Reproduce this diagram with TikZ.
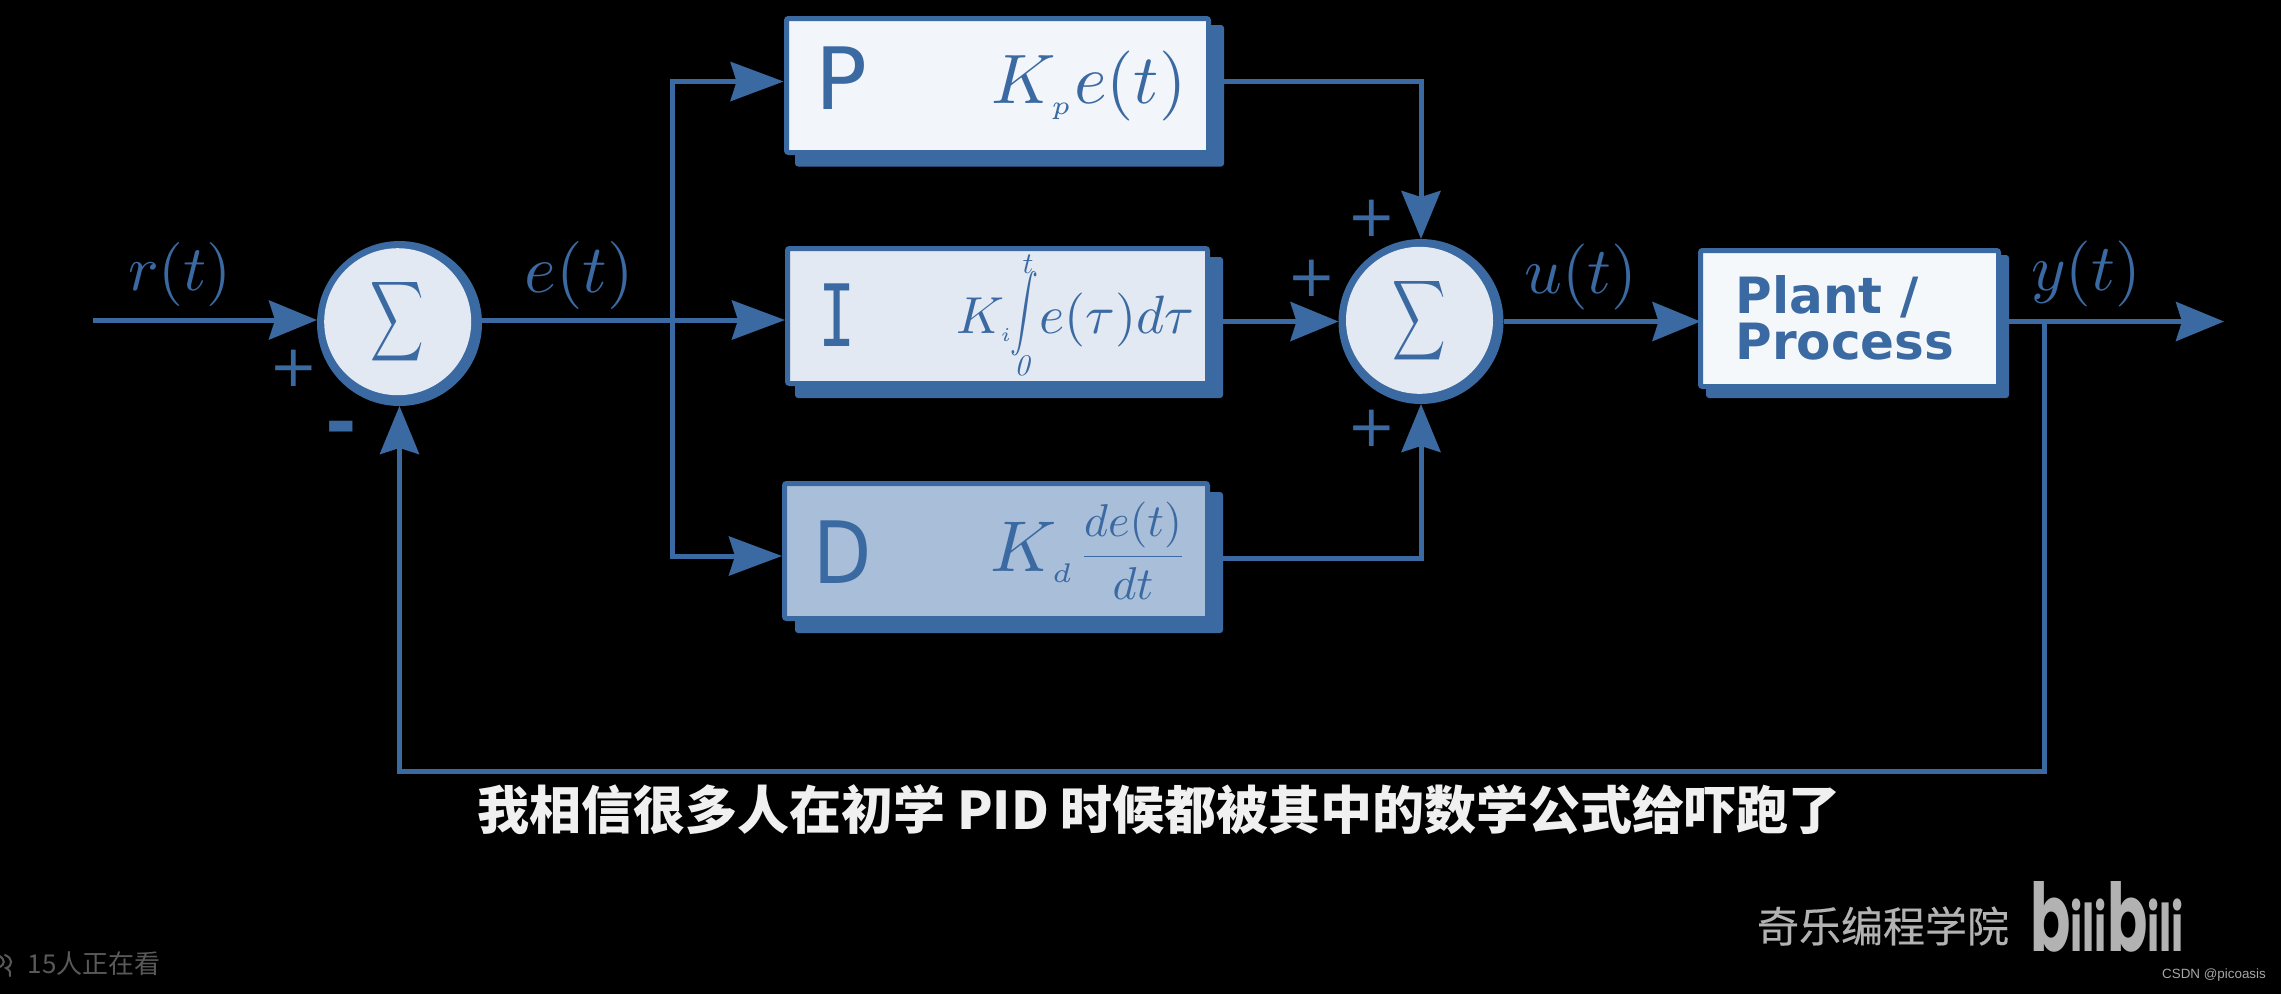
\documentclass[tikz,border=0pt]{standalone}
\usepackage[no-math]{fontspec}
\setmainfont{DejaVu Sans}
\newfontfamily\monoletter{DejaVu Sans Mono}
\newfontfamily\cjk{Noto Sans CJK SC}
\newfontfamily\cjkmed{Noto Sans CJK SC}[FakeBold=0.4]
\newfontfamily\csdnfont{Liberation Sans}
\newfontfamily\logofont{Poppins}
\usetikzlibrary{arrows.meta,calc}
\definecolor{pidblue}{HTML}{3B69A2}
\definecolor{fillP}{HTML}{F2F5FA}
\definecolor{fillI}{HTML}{E2E9F2}
\definecolor{fillD}{HTML}{A9BFD9}
\definecolor{fillPlant}{HTML}{F5F8FB}
\newcommand{\scm}[2]{\scalebox{#1}{$#2$}}
\newcommand{\fs}[1]{\fontsize{#1}{#1}\selectfont}
\newcommand{\tinysub}[1]{\scalebox{.75}{$\scriptscriptstyle #1$}}
\tikzset{
  x=0.5pt,y=-0.5pt,
  conn/.style={draw=pidblue,line width=2.5pt},
  arr/.style={conn,-{Stealth[length=24pt,width=19.5pt,inset=3pt]}},
  arrbig/.style={conn,-{Stealth[length=26.5pt,width=19.5pt,inset=3pt]}},
  blockbox/.style={rectangle,draw=pidblue,line width=2.5pt,rounded corners=1pt,inner sep=0pt,outer sep=0pt},
  shadowbox/.style={rectangle,fill=pidblue,rounded corners=1.5pt,inner sep=0pt,outer sep=0pt},
  ringout/.style={circle,fill=pidblue,minimum size=82.5pt,inner sep=0pt,outer sep=0pt},
  ringin/.style={circle,fill=fillI,minimum size=73.5pt,inner sep=0pt,outer sep=0pt,text=pidblue},
  math/.style={text=pidblue,inner sep=0pt,outer sep=0pt},
  letter/.style={text=pidblue,inner sep=0pt,outer sep=0pt,font=\fs{43}},
  sign/.style={text=pidblue,inner sep=0pt,outer sep=0pt,font=\fs{29}},
}
\begin{document}
\begin{tikzpicture}
\useasboundingbox (0,0) rectangle (2281,993);
\fill[black] (-10,-10) rectangle (2291,1003);
% block shadows and blocks
\node[shadowbox,minimum width=214.5pt,minimum height=70.75pt] (pshadow) at (1009.5,95.75) {};
\node[blockbox,fill=fillP,minimum width=211pt,minimum height=67pt] (pbox) at (997.5,85.5) {};
\node[shadowbox,minimum width=214pt,minimum height=70.5pt] (ishadow) at (1009,327.5) {};
\node[blockbox,fill=fillI,minimum width=210pt,minimum height=67.5pt] (ibox) at (997.5,316) {};
\node[shadowbox,minimum width=214pt,minimum height=70.5pt] (dshadow) at (1009,562.5) {};
\node[blockbox,fill=fillD,minimum width=211.5pt,minimum height=67.5pt] (dbox) at (996,551) {};
\node[shadowbox,minimum width=151.5pt,minimum height=71.5pt] (plantshadow) at (1857.5,326.5) {};
\node[blockbox,fill=fillPlant,minimum width=149pt,minimum height=68pt] (plant) at (1849.5,318.5) {};
% summing junctions
\node[ringout] (sum1) at (399.5,323.5) {};
\node[ringin] (sum1in) at (397.7,321.7) {\scalebox{1.85}[2.8]{$\displaystyle\sum$}};
\node[ringout] (sum2) at (1421,321.5) {};
\node[ringin] (sum2in) at (1419.5,320.3) {\scalebox{1.85}[2.8]{$\displaystyle\sum$}};
% helper coordinates
\coordinate (rstart) at (93,320);
\coordinate (branch) at (672,320);
\coordinate (pin) at (783.6,81.5);
\coordinate (iin) at (785,320);
\coordinate (din) at (782,556);
\coordinate (yout) at (2224,321.5);
\coordinate (ytap) at (2044,321.5);
\coordinate (fbcorner) at (2044,771);
% connectors
\draw[arr] (rstart) -- (sum1.west |- rstart);
\draw[conn] (sum1.east |- branch) -- (branch);
\draw[arrbig] (branch) -- (iin);
\draw[arrbig] (branch) |- (pin);
\draw[arrbig] (branch) |- (din);
\draw[arr] (pshadow.east |- pin) -| (sum2.north);
\draw[arr] (ishadow.east |- sum2.west) -- (sum2.west);
\draw[arr] (dshadow.east |- 0,558) -| (sum2.south);
\draw[arr] (sum2.east) -- (plant.west |- sum2.east);
\draw[arr] (plantshadow.east |- yout) -- (yout);
\draw[arr] (ytap) -- (fbcorner) -| (sum1.south);
% signal labels
\node[math] (rlabel) at (180,274) {\scm{3.2}{r(t)}};
\node[math] (elabel) at (579,275) {\scm{3.4}{e(t)}};
\node[math] (ulabel) at (1581,277) {\scm{3.3}{u(t)}};
\node[math] (ylabel) at (2086,274) {\scm{3.3}{y(t)}};
% signs
\node[sign] (plus1) at (294,368) {+};
\node[text=pidblue,inner sep=0pt,font=\bfseries\fs{38}] (minus1) at (341,435) {-};
\node[sign] (plus2) at (1371.5,218) {+};
\node[sign] (plus3) at (1312,278) {+};
\node[sign] (plus4) at (1371.5,428) {+};
% block letters
\node[letter] (pletter) at (841.5,78.5) {P};
\node[letter,font=\monoletter\fs{43}] (iletter) at (837.5,315.5) {\scalebox{.72}[1]{I}};
\node[letter] (dletter) at (842.5,552) {\scalebox{.88}[1]{D}};
% block formulas
\node[math] (pform) at (1089,86) {\scm{3.5}{K_{\tinysub{p}}e(t)}};
\node[math] (iK) at (985,320) {\scm{2.6}{K_{\tinysub{i}}}};
\node[math] (iint) at (1024,314) {\scalebox{1.4}[1.9]{$\displaystyle\int$}};
\node[math] (itop) at (1028,264) {\scm{1.5}{t}};
\node[math] (ibot) at (1024,366) {\scm{1.5}{\mathit{0}}};
\node[math] (iform) at (1117,320) {\scm{2.7}{e(\tau)d\tau}};
\node[math] (dK) at (1033,552) {\scm{3.6}{K_{\tinysub{d}}}};
\node[math] (dfrac) at (1133,551) {\scm{2.3}{\displaystyle\frac{de(t)}{dt}}};
% plant text
\node[text=pidblue,inner sep=0pt,align=left,font=\bfseries\fontsize{25}{23}\selectfont] (planttext) at (1845,318) {Plant /\\Process};
% subtitle and overlays
\node[text=white!94!black,inner sep=0pt,font=\cjk\bfseries\fs{26}] (subtitle) at (1159,810) {我相信很多人在初学 PID 时候都被其中的数学公式给吓跑了};
\node[text=black!30!white,inner sep=0pt,font=\cjkmed\fs{21}] (channel) at (1883,926) {奇乐编程学院};
\node[text=black!30!white,inner sep=0pt] (logo) at (2107,917) {\resizebox{77pt}{35pt}{\logofont\bfseries{\Large b}ili{\Large b}ili}};
\node[text=black!35!white,inner sep=0pt,font=\csdnfont\fs{6.7}] (csdn) at (2214,975) {CSDN @picoasis};
\node[text=black!65!white,inner sep=0pt,font=\cjk\fs{13}] (viewers) at (94,964) {15人正在看};
\draw[black!65!white,line width=1pt,line cap=round] (5,955) .. controls (13,958) and (13,966) .. (6,968) .. controls (10,970) and (11,973) .. (10,976);
\draw[black!65!white,line width=1pt,line cap=round] (0,956) .. controls (5,960) and (5,964) .. (0,967);
\end{tikzpicture}
\end{document}
